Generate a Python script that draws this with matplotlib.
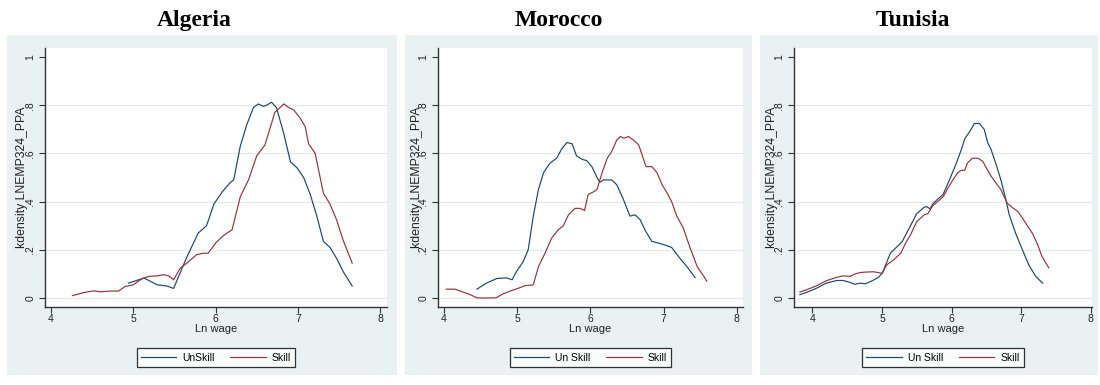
import matplotlib
matplotlib.use("Agg")
import matplotlib.pyplot as plt
from matplotlib.patches import Rectangle

# ---------------- data ----------------
countries = ["Algeria", "Morocco", "Tunisia"]
unskill_labels = ["UnSkill", "Un Skill", "Un Skill"]
skill_label = "Skill"

alg_unskill_x = [4.94, 5.13, 5.29, 5.41, 5.49, 5.65, 5.79, 5.89, 5.98, 6.08, 6.18, 6.22, 6.30, 6.38, 6.46,
                 6.52, 6.58, 6.62, 6.68, 6.74, 6.83, 6.91, 6.99, 7.07, 7.15, 7.23, 7.31, 7.39, 7.47, 7.55, 7.66]
alg_unskill_y = [0.062, 0.083, 0.055, 0.050, 0.040, 0.170, 0.270, 0.300, 0.390, 0.440, 0.480, 0.490, 0.630, 0.720, 0.790,
                 0.805, 0.795, 0.800, 0.812, 0.790, 0.680, 0.565, 0.540, 0.500, 0.430, 0.340, 0.235, 0.210, 0.165, 0.110, 0.050]

alg_skill_x = [4.26, 4.40, 4.52, 4.60, 4.72, 4.82, 4.90, 5.00, 5.10, 5.19, 5.29, 5.37, 5.43, 5.49, 5.57, 5.65,
               5.77, 5.85, 5.91, 6.00, 6.08, 6.14, 6.20, 6.30, 6.40, 6.50, 6.60, 6.64, 6.72, 6.83, 6.89, 6.95,
               7.03, 7.09, 7.13, 7.21, 7.31, 7.39, 7.47, 7.55, 7.66]
alg_skill_y = [0.010, 0.023, 0.030, 0.026, 0.029, 0.029, 0.048, 0.055, 0.079, 0.090, 0.092, 0.097, 0.092, 0.076, 0.124, 0.145,
               0.180, 0.186, 0.186, 0.228, 0.255, 0.270, 0.283, 0.420, 0.490, 0.590, 0.635, 0.680, 0.770, 0.805, 0.790, 0.780,
               0.745, 0.710, 0.640, 0.600, 0.435, 0.390, 0.325, 0.240, 0.145]

mor_unskill_x = [4.45, 4.58, 4.72, 4.85, 4.93, 4.99, 5.08, 5.15, 5.22, 5.29, 5.36, 5.45, 5.54, 5.61, 5.68, 5.75,
                 5.81, 5.89, 5.95, 6.02, 6.09, 6.13, 6.18, 6.29, 6.36, 6.45, 6.54, 6.61, 6.68, 6.75, 6.84, 6.93,
                 7.02, 7.11, 7.21, 7.32, 7.43]
mor_unskill_y = [0.037, 0.062, 0.081, 0.084, 0.076, 0.110, 0.150, 0.200, 0.340, 0.450, 0.520, 0.560, 0.580, 0.620, 0.645, 0.640,
                 0.590, 0.575, 0.570, 0.545, 0.500, 0.480, 0.490, 0.490, 0.470, 0.410, 0.340, 0.345, 0.325, 0.280, 0.235, 0.228,
                 0.220, 0.210, 0.170, 0.130, 0.085]

mor_skill_x = [4.03, 4.15, 4.26, 4.36, 4.45, 4.54, 4.71, 4.81, 4.93, 5.01, 5.10, 5.22, 5.29, 5.38, 5.47, 5.56,
               5.63, 5.70, 5.79, 5.86, 5.92, 5.97, 6.04, 6.09, 6.16, 6.23, 6.29, 6.36, 6.41, 6.46, 6.52, 6.59,
               6.66, 6.70, 6.76, 6.84, 6.91, 6.98, 7.05, 7.11, 7.18, 7.27, 7.36, 7.46, 7.55, 7.59]
mor_skill_y = [0.037, 0.037, 0.025, 0.014, 0.001, 0.000, 0.001, 0.018, 0.032, 0.040, 0.051, 0.055, 0.130, 0.186, 0.248, 0.283,
               0.300, 0.345, 0.372, 0.372, 0.363, 0.430, 0.440, 0.450, 0.520, 0.580, 0.607, 0.655, 0.670, 0.663, 0.670, 0.655,
               0.635, 0.600, 0.545, 0.545, 0.520, 0.470, 0.435, 0.400, 0.340, 0.290, 0.210, 0.130, 0.090, 0.070]

tun_unskill_x = [3.82, 3.91, 4.06, 4.20, 4.35, 4.44, 4.54, 4.61, 4.69, 4.76, 4.86, 4.95, 5.01, 5.12, 5.22, 5.29,
                 5.41, 5.50, 5.60, 5.64, 5.69, 5.73, 5.80, 5.88, 5.97, 6.07, 6.14, 6.19, 6.26, 6.33, 6.40, 6.47,
                 6.52, 6.57, 6.64, 6.71, 6.78, 6.83, 6.92, 7.02, 7.11, 7.21, 7.31]
tun_unskill_y = [0.014, 0.023, 0.041, 0.062, 0.073, 0.073, 0.065, 0.057, 0.062, 0.059, 0.072, 0.086, 0.106, 0.186, 0.214, 0.234,
                 0.300, 0.350, 0.375, 0.380, 0.370, 0.390, 0.410, 0.430, 0.490, 0.560, 0.615, 0.660, 0.690, 0.724, 0.724, 0.700,
                 0.645, 0.615, 0.555, 0.490, 0.410, 0.345, 0.270, 0.200, 0.138, 0.090, 0.062]

tun_skill_x = [3.82, 3.91, 4.06, 4.20, 4.35, 4.44, 4.54, 4.61, 4.69, 4.78, 4.88, 5.00, 5.07, 5.17, 5.27, 5.34,
               5.41, 5.50, 5.61, 5.66, 5.73, 5.80, 5.88, 5.95, 6.02, 6.09, 6.14, 6.19, 6.23, 6.30, 6.38, 6.45,
               6.50, 6.57, 6.64, 6.71, 6.80, 6.88, 6.95, 7.02, 7.09, 7.16, 7.23, 7.30, 7.40]
tun_skill_y = [0.025, 0.034, 0.051, 0.072, 0.086, 0.092, 0.090, 0.100, 0.106, 0.108, 0.109, 0.103, 0.138, 0.159, 0.186, 0.228,
               0.262, 0.317, 0.346, 0.350, 0.383, 0.400, 0.420, 0.457, 0.490, 0.520, 0.530, 0.530, 0.560, 0.580, 0.580, 0.567,
               0.540, 0.505, 0.477, 0.450, 0.394, 0.374, 0.360, 0.332, 0.300, 0.270, 0.228, 0.173, 0.125]

unskill_x = [alg_unskill_x, mor_unskill_x, tun_unskill_x]
unskill_y = [alg_unskill_y, mor_unskill_y, tun_unskill_y]
skill_x = [alg_skill_x, mor_skill_x, tun_skill_x]
skill_y = [alg_skill_y, mor_skill_y, tun_skill_y]

x_ticks = [4, 5, 6, 7, 8]
y_ticks = [0, 0.2, 0.4, 0.6, 0.8, 1.0]
y_tick_labels = ["0", ".2", ".4", ".6", ".8", "1"]
x_label = "Ln wage"
y_label = "kdensity LNEMP324_PPA"

# ---------------- layout (pixels) ----------------
W, H = 1100, 385
BG = "#eaf1f3"
NAVY = "#1a476f"
MAROON = "#90353b"

panels_bg = [(7, 35, 397, 375), (405, 35, 752, 375), (760, 35, 1098, 375)]
axes_px = [(45, 48, 387, 307), (438, 48, 743, 307), (794, 48, 1092, 307)]
xlims = [(3.927, 8.083), (3.918, 8.085), (3.735, 8.02)]
title_x = [194, 559, 913]
ylabel_x = [22, 417, 772]

plt.rcParams["font.family"] = ["Liberation Sans", "DejaVu Sans"]

fig = plt.figure(figsize=(W / 100, H / 100), dpi=100)
fig.patch.set_facecolor("white")

for (x0, y0, x1, y1) in panels_bg:
    fig.patches.append(Rectangle((x0 / W, 1 - y1 / H), (x1 - x0) / W, (y1 - y0) / H,
                                 transform=fig.transFigure, facecolor=BG, edgecolor="none", zorder=-5))

for i in range(3):
    l, t, r, b = axes_px[i]
    ax = fig.add_axes([l / W, 1 - b / H, (r - l) / W, (b - t) / H])
    ax.set_zorder(1)
    ax.set_facecolor("white")
    ax.set_xlim(*xlims[i])
    ax.set_ylim(-0.037, 1.037)

    for yv in y_ticks[:-1]:
        ax.axhline(yv, color="#e6e9ea", lw=0.9, zorder=1)

    l1, = ax.plot(unskill_x[i], unskill_y[i], color=NAVY, lw=0.85, zorder=3, label=unskill_labels[i])
    l2, = ax.plot(skill_x[i], skill_y[i], color=MAROON, lw=0.85, zorder=3, label=skill_label)

    for s in ["top", "right"]:
        ax.spines[s].set_visible(False)
    for s in ["left", "bottom"]:
        ax.spines[s].set_color("#333333")
        ax.spines[s].set_linewidth(1.0)

    ax.set_xticks(x_ticks)
    ax.set_xticklabels([str(v) for v in x_ticks], fontsize=7.5)
    ax.set_yticks(y_ticks)
    ax.set_yticklabels(y_tick_labels, fontsize=7.5, rotation=90, va="center")
    ax.tick_params(axis="both", direction="out", length=4, width=0.8, color="#333333", labelcolor="#222222")
    ax.tick_params(axis="x", pad=1)
    ax.tick_params(axis="y", pad=3)

    ax.set_xlabel(x_label, fontsize=8, labelpad=0, color="#222222")
    ax.text((ylabel_x[i] - l) / (r - l), 0.5, y_label, rotation=90, fontsize=8.8,
            ha="center", va="center", color="#222222", transform=ax.transAxes, clip_on=False)

    leg = ax.legend(handles=[l1, l2], loc="center", bbox_to_anchor=(0.5, -0.195), ncol=2,
                    fontsize=7.5, frameon=True, fancybox=False, handlelength=3.4, columnspacing=1.5,
                    handletextpad=0.6, borderpad=0.4, borderaxespad=0)
    leg.get_frame().set_edgecolor("black")
    leg.get_frame().set_linewidth(0.9)
    leg.get_frame().set_facecolor("white")

    fig.text(title_x[i] / W, 1 - 26 / H, countries[i], fontsize=17, fontweight="bold",
             family=["Liberation Serif", "DejaVu Serif"], ha="center", va="baseline")

fig.savefig("out.png", dpi=100, facecolor="white")
